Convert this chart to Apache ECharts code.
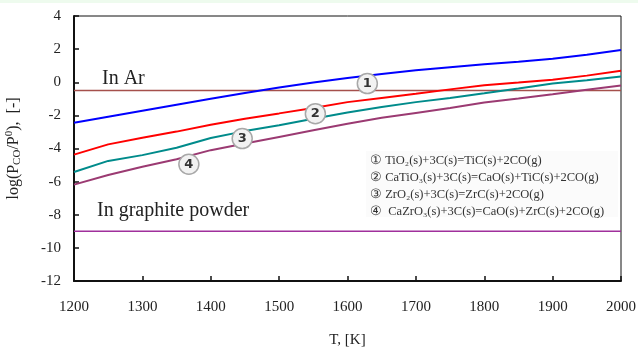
<!DOCTYPE html>
<html><head><meta charset="utf-8">
<script src="https://cdn.jsdelivr.net/npm/echarts@6/dist/echarts.min.js"></script>
<style>html,body{margin:0;padding:0;background:#fff}#c{width:638px;height:349px}</style>
</head><body><div id="c"></div>
<script>
const temps = [1200,1250,1300,1350,1400,1450,1500,1550,1600,1650,1700,1750,1800,1850,1900,1950,2000];
const tio2 = [-2.45,-2.08,-1.72,-1.36,-1.0,-0.65,-0.32,-0.02,0.25,0.5,0.72,0.9,1.08,1.24,1.42,1.66,1.95];
const catio3 = [-4.37,-3.75,-3.35,-2.98,-2.57,-2.2,-1.88,-1.55,-1.2,-0.95,-0.7,-0.43,-0.18,-0.02,0.15,0.4,0.7];
const zro2 = [-5.42,-4.75,-4.4,-3.95,-3.37,-2.95,-2.6,-2.2,-1.82,-1.5,-1.2,-0.95,-0.67,-0.38,-0.08,0.12,0.34];
const cazro3 = [-6.18,-5.6,-5.1,-4.65,-4.1,-3.7,-3.3,-2.9,-2.5,-2.15,-1.85,-1.55,-1.22,-0.98,-0.72,-0.45,-0.2];
const arLevel = -0.5;
const graphiteLevel = -9;
const xRange = [1200, 2000];
const yTicks = [-12,-10,-8,-6,-4,-2,0,2,4];
const markerLabels = ['1','2','3','4'];
const markerT = [1629, 1553, 1446, 1368];
const markerV = [-0.08, -1.9, -3.4, -4.95];
const legendLines = [
  '① TiO₂(s)+3C(s)=TiC(s)+2CO(g)',
  '② CaTiO₃(s)+3C(s)=CaO(s)+TiC(s)+2CO(g)',
  '③ ZrO₂(s)+3C(s)=ZrC(s)+2CO(g)',
  '④  CaZrO₃(s)+3C(s)=CaO(s)+ZrC(s)+2CO(g)'
];

const zip = (xs, ys) => xs.map((x, i) => [x, ys[i]]);
const serif = '"Liberation Serif","DejaVu Serif",serif';
const chart = echarts.init(document.getElementById('c'));

function lineSeries(data, color, z) {
  return { type: 'line', data: zip(temps, data), symbol: 'none', smooth: false,
    lineStyle: { color: color, width: 2 }, z: z || 2, animation: false };
}

chart.setOption({
  animation: false,
  backgroundColor: '#ffffff',
  grid: { left: 74, right: 17, top: 16, bottom: 68, show: true, borderColor: '#111', borderWidth: 1,
    containLabel: false, outerBoundsMode: 'none' },
  xAxis: {
    type: 'value', min: xRange[0], max: xRange[1], interval: 100,
    axisLine: { show: true, onZero: false, lineStyle: { color: '#111', width: 2 } },
    axisTick: { show: true, inside: true, length: 5, lineStyle: { color: '#111', width: 1.5 } },
    axisLabel: { color: '#222', fontFamily: serif, fontSize: 15, margin: 19, formatter: v => String(v) },
    splitLine: { show: false },
    name: 'T, [K]', nameLocation: 'middle', nameGap: 52,
    nameTextStyle: { color: '#222', fontFamily: serif, fontSize: 15 }
  },
  yAxis: {
    type: 'value', min: yTicks[0], max: yTicks[yTicks.length - 1], interval: 2,
    axisLine: { show: true, onZero: false, lineStyle: { color: '#111', width: 2 } },
    axisTick: { show: true, inside: true, length: 5, lineStyle: { color: '#111', width: 1.5 } },
    axisLabel: { color: '#222', fontFamily: serif, fontSize: 15, margin: 13, formatter: v => String(v) },
    splitLine: { show: false },
    name: '{n|log(P}{s|CO}{n|/P}{p|0}{n|),  [-]}', nameLocation: 'middle', nameGap: 50,
    nameTextStyle: { rich: {
      n: { fontFamily: serif, fontSize: 16, color: '#222' },
      s: { fontFamily: serif, fontSize: 11, color: '#222', padding: [6, 0, 0, 0] },
      p: { fontFamily: serif, fontSize: 11, color: '#222', padding: [0, 0, 9, 0] }
    } }
  },
  series: [
    { type: 'line', data: [[xRange[0], arLevel], [xRange[1], arLevel]], symbol: 'none',
      lineStyle: { color: '#a5504c', width: 1.5 }, z: 1 },
    { type: 'line', data: [[xRange[0], graphiteLevel], [xRange[1], graphiteLevel]], symbol: 'none',
      lineStyle: { color: '#a0309c', width: 1.5 }, z: 1 },
    lineSeries(tio2, '#0000ff'),
    lineSeries(catio3, '#ff0000'),
    lineSeries(zro2, '#008b8b'),
    lineSeries(cazro3, '#9b3a72'),
    { type: 'scatter', data: zip(markerT, markerV), symbol: 'circle', symbolSize: 20, z: 5,
      itemStyle: { color: '#f2f2f2', borderColor: '#a8a8a8', borderWidth: 1.5, opacity: 1 },
      label: { show: true, position: 'inside', formatter: p => markerLabels[p.dataIndex],
        color: '#333', fontFamily: '"DejaVu Sans",sans-serif', fontSize: 13, fontWeight: 'bold' } }
  ],
  graphic: [
    { type: 'rect', left: 0, top: 0, shape: { width: 638, height: 3 }, style: { fill: '#eefbee' }, z: 0 },
    { type: 'text', left: 102, top: 69, style: { text: 'In Ar', font: '20px ' + serif, fill: '#222' }, z: 10 },
    { type: 'text', left: 97, top: 201, style: { text: 'In graphite powder', font: '20px ' + serif, fill: '#222' }, z: 10 },
    { type: 'rect', left: 366, top: 151, shape: { width: 252, height: 66 }, style: { fill: '#fbfbfb' }, z: 9 },
    { type: 'text', left: 370, top: 152, style: { text: legendLines.join('\n'), font: '12.5px ' + serif, fill: '#333', lineHeight: 17 }, z: 10 }
  ]
});
</script></body></html>
